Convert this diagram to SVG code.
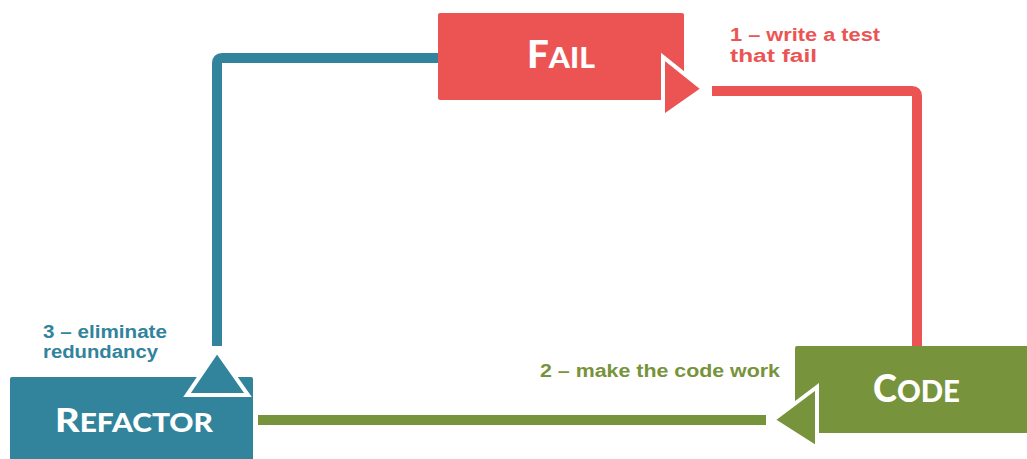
<svg xmlns="http://www.w3.org/2000/svg" width="1027" height="459" viewBox="0 0 1027 459">
<style>
.box-red{fill:#EC5454}
.box-blue{fill:#31849B}
.box-green{fill:#77933C}
.title{font-family:"Lato","Open Sans",sans-serif;font-weight:900;fill:#fff}
.lbl{font-family:"Liberation Sans",Arial,sans-serif;font-weight:bold;font-size:18px}
.line{fill:none;stroke-width:10}
.head{stroke:#fff;stroke-width:4;stroke-linejoin:miter}
</style>
<rect width="1027" height="459" fill="#fff"/>
<g id="connectors">
  <path class="line" stroke="#EC5454" d="M712 91 H912 Q917 91 917 96 V352"/>
  <path class="line" stroke="#77933C" d="M258 420 H766"/>
  <path class="line" stroke="#31849B" d="M440 58 H222 Q217 58 217 63 V346"/>
</g>
<g id="node-fail">
  <rect class="box-red" x="438" y="13" width="246" height="87" rx="2"/>
  <text class="title" x="527" y="68" textLength="68" lengthAdjust="spacingAndGlyphs"><tspan font-size="37">F</tspan><tspan font-size="29">AIL</tspan></text>
  <polygon class="box-red head" points="663,57 663,117 703,89"/>
</g>
<g id="node-code">
  <rect class="box-green" x="795" y="346" width="240" height="87" rx="2"/>
  <text class="title" x="873" y="402" textLength="87" lengthAdjust="spacingAndGlyphs"><tspan font-size="37">C</tspan><tspan font-size="30">ODE</tspan></text>
  <polygon class="box-green head" points="773,420 817,387 817,448"/>
</g>
<g id="node-refactor">
  <rect class="box-blue" x="10" y="377" width="243" height="90" rx="2"/>
  <text class="title" x="55" y="432" textLength="158" lengthAdjust="spacingAndGlyphs"><tspan font-size="33">R</tspan><tspan font-size="26">EFACTOR</tspan></text>
  <polygon class="box-blue head" points="217,351 187,395 248,395"/>
</g>
<g id="labels">
  <text class="lbl" fill="#EC5454" x="730" y="41" textLength="150" lengthAdjust="spacingAndGlyphs">1 – write a test</text>
  <text class="lbl" fill="#EC5454" x="730" y="62" textLength="87" lengthAdjust="spacingAndGlyphs">that fail</text>
  <text class="lbl" fill="#77933C" x="540" y="377" textLength="240" lengthAdjust="spacingAndGlyphs">2 – make the code work</text>
  <text class="lbl" fill="#31849B" x="43" y="338" textLength="124" lengthAdjust="spacingAndGlyphs">3 – eliminate</text>
  <text class="lbl" fill="#31849B" x="43" y="358" textLength="115" lengthAdjust="spacingAndGlyphs">redundancy</text>
</g>
</svg>
